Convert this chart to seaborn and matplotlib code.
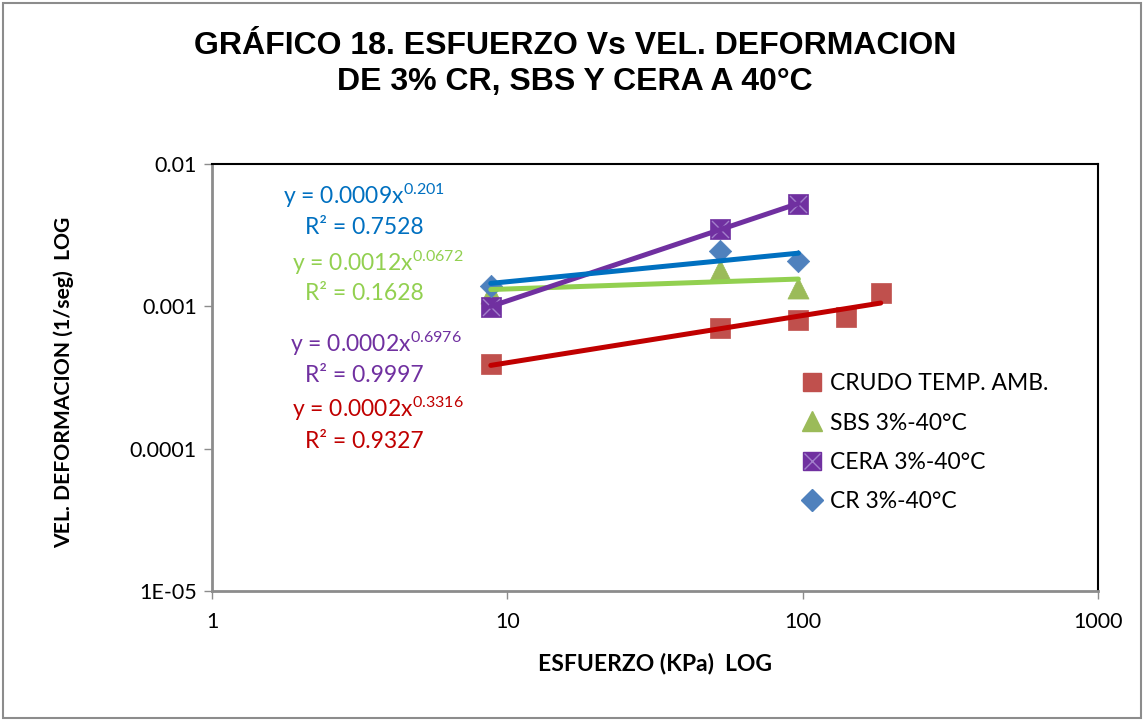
import numpy as np
import pandas as pd
import matplotlib
matplotlib.use("Agg")
import matplotlib.pyplot as plt
from matplotlib.lines import Line2D
from matplotlib.patches import Rectangle
from matplotlib.legend_handler import HandlerTuple
import seaborn as sns

# ---------------- data ----------------
crudo_x = [8.79, 52.4, 96.7, 140.2, 183.8]
crudo_y = [0.000393, 0.000701, 0.000802, 0.000847, 0.00124]
sbs_x = [8.79, 52.4, 96.7]
sbs_y = [0.00125, 0.0018, 0.00135]
cera_x = [8.79, 52.4, 96.7]
cera_y = [0.000996, 0.00348, 0.00525]
cr_x = [8.79, 52.4, 96.7]
cr_y = [0.00139, 0.00246, 0.00209]

series_names = ["CRUDO TEMP. AMB.", "SBS 3%-40°C", "CERA 3%-40°C", "CR 3%-40°C"]
eq_text = ["y = 0.0009x$^{0.201}$", "y = 0.0012x$^{0.0672}$", "y = 0.0002x$^{0.6976}$", "y = 0.0002x$^{0.3316}$"]
r2_text = ["R² = 0.7528", "R² = 0.1628", "R² = 0.9997", "R² = 0.9327"]
x_ticks = [1, 10, 100, 1000]
x_tick_labels = ["1", "10", "100", "1000"]
y_ticks = [1e-5, 1e-4, 1e-3, 1e-2]
y_tick_labels = ["1E-05", "0.0001", "0.001", "0.01"]

title = "GRÁFICO 18. ESFUERZO Vs VEL. DEFORMACION\nDE 3% CR, SBS Y CERA A 40°C"
xlabel = "ESFUERZO (KPa)  LOG"
ylabel = "VEL. DEFORMACION (1/seg)  LOG"

# ---------------- style ----------------
sns.set_theme(style="white")
plt.rcParams['font.family'] = ['Lato', 'DejaVu Sans']
plt.rcParams['mathtext.fontset'] = 'custom'
plt.rcParams['mathtext.rm'] = 'Lato'
plt.rcParams['mathtext.it'] = 'Lato'
plt.rcParams['mathtext.bf'] = 'Lato:bold'
plt.rcParams['text.color'] = 'black'
plt.rcParams['axes.labelcolor'] = 'black'

c_red, c_green, c_purple, c_blue = "#C0504D", "#9BBB59", "#7030A0", "#4F81BD"
l_red, l_green, l_purple, l_blue = "#C00000", "#92D050", "#7030A0", "#0070C0"

fig = plt.figure(figsize=(11.44, 7.2), dpi=100)
ax = fig.add_axes([212/1144, 1-591/720, (1098-212)/1144, (591-164)/720])

fig.patches.append(Rectangle((3/1144, 2/720), 1138/1144, 715/720, transform=fig.transFigure,
                             fill=False, edgecolor="#8C8C8C", linewidth=1.5, zorder=0))

def df(x, y):
    return pd.DataFrame({"x": x, "y": y})

def fit_line(x, y):
    lx, ly = np.log10(x), np.log10(y)
    b, a = np.polyfit(lx, ly, 1)
    xs = np.array([min(x), max(x)])
    return pd.DataFrame({"x": xs, "y": 10 ** (a + b * np.log10(xs))})

# markers
sns.scatterplot(data=df(crudo_x, crudo_y), x="x", y="y", marker="s", s=200, color=c_red,
                edgecolor=c_red, linewidth=0.5, ax=ax, zorder=3)
sns.scatterplot(data=df(sbs_x, sbs_y), x="x", y="y", marker="^", s=230, color=c_green,
                edgecolor=c_green, linewidth=0.5, ax=ax, zorder=3)
sns.scatterplot(data=df(cera_x, cera_y), x="x", y="y", marker="s", s=200, color=c_purple,
                edgecolor=c_purple, linewidth=0.5, ax=ax, zorder=3)
sns.scatterplot(data=df(cera_x, cera_y), x="x", y="y", marker="x", s=150, color="#A27FCB",
                linewidth=1.0, ax=ax, zorder=3.1)
sns.scatterplot(data=df(cr_x, cr_y), x="x", y="y", marker="D", s=130, color=c_blue,
                edgecolor=c_blue, linewidth=0.5, ax=ax, zorder=3.2)

# power trendlines
for (x, y, col) in [(crudo_x, crudo_y, l_red), (sbs_x, sbs_y, l_green),
                    (cera_x, cera_y, l_purple), (cr_x, cr_y, l_blue)]:
    sns.lineplot(data=fit_line(x, y), x="x", y="y", color=col, linewidth=3.6, ax=ax,
                 zorder=4, solid_capstyle="round")

ax.set_xscale("log")
ax.set_yscale("log")
ax.set_xlim(1, 1000)
ax.set_ylim(1e-5, 1e-2)
ax.set_xticks(x_ticks)
ax.set_xticklabels(x_tick_labels)
ax.set_yticks(y_ticks)
ax.set_yticklabels(y_tick_labels)
ax.minorticks_off()
ax.tick_params(axis="both", which="major", labelsize=15.5, labelcolor="#000000", length=6,
               width=1, direction="out", pad=5, color="#8C8C8C")
ax.tick_params(axis="x", pad=9)
ax.xaxis.set_ticks_position("bottom")
ax.yaxis.set_ticks_position("left")
for s in ["top", "right"]:
    ax.spines[s].set_color("#000000")
    ax.spines[s].set_linewidth(1.5)
for s in ["left", "bottom"]:
    ax.spines[s].set_color("#8C8C8C")
    ax.spines[s].set_linewidth(2.0)
ax.grid(False)

ax.set_xlabel(xlabel, fontsize=16.5, fontweight="bold")
ax.set_ylabel(ylabel, fontsize=15.2, fontweight="bold")
ax.xaxis.set_label_coords((655-212)/886, (591-653)/427)
ax.yaxis.set_label_coords((74-212)/886, (591-382)/427)

fig.text(575/1144, 1-64/720, title, ha="center", va="center", fontsize=23, fontweight="bold",
         family=["Liberation Sans"], linespacing=1.3, color="black")

# trendline equations
eq_cols = [l_blue, l_green, l_purple, l_red]
eq_pos = [(364, 196), (378, 263), (376, 344), (378, 409)]
r2_pos = [(364, 228), (364, 294), (364, 376), (364, 441)]
for t, r, col, (ex, ey), (rx, ry) in zip(eq_text, r2_text, eq_cols, eq_pos, r2_pos):
    fig.text(ex/1144, 1-ey/720, t, ha="center", va="center", fontsize=16.5, color=col)
    fig.text(rx/1144, 1-ry/720, r, ha="center", va="center", fontsize=16.5, color=col)

# legend
h_crudo = Line2D([], [], marker="s", color=c_red, linestyle="none", markersize=13)
h_sbs = Line2D([], [], marker="^", color=c_green, linestyle="none", markersize=14)
h_cera = (Line2D([], [], marker="s", color=c_purple, linestyle="none", markersize=13),
          Line2D([], [], marker="x", color="#A27FCB", linestyle="none", markersize=11, markeredgewidth=1))
h_cr = Line2D([], [], marker="D", color=c_blue, linestyle="none", markersize=11)
leg = ax.legend([h_crudo, h_sbs, h_cera, h_cr], series_names,
                handler_map={tuple: HandlerTuple(ndivide=1, pad=0)},
                loc="upper left", bbox_to_anchor=((794-212)/886, (591-364)/427),
                frameon=False, fontsize=16.5, handlelength=0.8, handletextpad=0.35,
                labelspacing=0.8, borderaxespad=0)
for t in leg.get_texts():
    t.set_color("black")

fig.savefig("out.png", dpi=100)
